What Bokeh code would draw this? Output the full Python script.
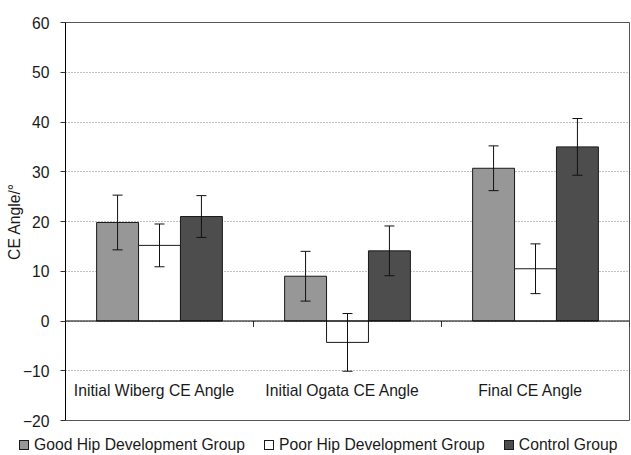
from bokeh.plotting import figure
from bokeh.models import (ColumnDataSource, Range1d, FixedTicker, Whisker, TeeHead,
                          Span, Div)
from bokeh.layouts import column
from bokeh.core.properties import value
from bokeh.embed import file_html
from bokeh.resources import INLINE
import numpy as np

categories = ["Initial Wiberg CE Angle", "Initial Ogata CE Angle", "Final CE Angle"]
series_names = ["Good Hip Development Group", "Poor Hip Development Group", "Control Group"]
good_vals = [19.8, 9.0, 30.7]
good_err = [5.5, 5.0, 4.5]
poor_vals = [15.2, -4.3, 10.5]
poor_err = [4.3, 5.8, 5.0]
ctrl_vals = [21.0, 14.1, 35.0]
ctrl_err = [4.2, 5.0, 5.7]
yticks = [-20, -10, 0, 10, 20, 30, 40, 50, 60]
ytick_labels = ["\u221220", "\u221210", "0", "10", "20", "30", "40", "50", "60"]
y_title = "CE Angle/\u00b0"

FONT = "Liberation Sans"
FS = "15.7px"
fills = ["#979797", "#ffffff", "#4d4d4d"]
bar_w = 0.223
offsets = [-bar_w, 0.0, bar_w]

p = figure(width=631, height=430, output_backend="svg", toolbar_location=None,
           x_range=Range1d(0, 3), y_range=Range1d(-20, 60), x_axis_location=None,
           min_border_left=65, min_border_right=2, min_border_top=22, min_border_bottom=10)
p.xgrid.visible = False
p.outline_line_color = "#555555"
p.outline_line_width = 1

# y axis
ya = p.yaxis[0]
ya.ticker = FixedTicker(ticks=yticks)
ya.major_label_overrides = {t: l for t, l in zip(yticks, ytick_labels)}
ya.major_label_text_font = FONT
ya.major_label_text_font_size = FS
ya.major_label_text_color = "#1a1a1a"
ya.major_tick_in = 0
ya.major_tick_out = 5
ya.major_tick_line_color = "#333333"
ya.minor_tick_line_color = None
ya.axis_line_color = "#000000"
ya.axis_label = y_title
ya.axis_label_text_font = FONT
ya.axis_label_text_font_size = FS
ya.axis_label_text_font_style = "normal"
ya.axis_label_text_color = "#1a1a1a"
ya.axis_label_standoff = -3
ya.major_label_standoff = 11

p.ygrid.ticker = FixedTicker(ticks=yticks)
p.ygrid.grid_line_color = "#808080"
p.ygrid.grid_line_dash = "1 2"

centers = np.arange(len(categories)) + 0.5
for name, vals, errs, fc, off in zip(series_names, [good_vals, poor_vals, ctrl_vals],
                                     [good_err, poor_err, ctrl_err], fills, offsets):
    xs = centers + off
    src = ColumnDataSource(dict(x=xs, top=vals,
                                upper=np.array(vals) + np.array(errs),
                                lower=np.array(vals) - np.array(errs)))
    p.vbar(x="x", top="top", bottom=0, width=bar_w, source=src,
           fill_color=fc, line_color="#1a1a1a", line_width=1)
    w = Whisker(base="x", upper="upper", lower="lower", source=src, level="overlay",
                line_color="#111111", line_width=1,
                upper_head=TeeHead(size=10, line_color="#111111", line_width=1),
                lower_head=TeeHead(size=10, line_color="#111111", line_width=1))
    p.add_layout(w)

# zero line with category boundary ticks
p.add_layout(Span(location=0, dimension="width", line_color="#000000", line_width=1))
bounds = np.arange(len(categories) + 1)
p.ray(x=bounds, y=[0] * len(bounds), length=6, length_units="screen",
      angle=-np.pi / 2, line_color="#333333", line_width=1)

# category labels inside plot area
p.text(x=centers, y=[-14] * len(categories), text=categories,
       text_font=value(FONT), text_font_size=FS, text_align="center",
       text_baseline="middle", text_color="#1a1a1a", x_offset=-5)

# legend strip (HTML, real text)
parts = []
for i, (name, fc) in enumerate(zip(series_names, fills)):
    gap = "0" if i == len(series_names) - 1 else "19px"
    parts.append(
        f'<span style="display:inline-block;width:10px;height:10px;background:{fc};'
        f'border:1px solid #1a1a1a;margin-right:5px;vertical-align:middle;'
        f'position:relative;top:-1px;"></span>'
        f'<span style="margin-right:{gap};">{name}</span>')
legend_div = Div(text="".join(parts), width=631, height=25, margin=0,
                 styles={"font-family": FONT, "font-size": FS, "color": "#1a1a1a",
                         "white-space": "nowrap", "padding-left": "19px",
                         "padding-top": "4px", "line-height": "22px",
                         "box-sizing": "border-box"})

layout = column(p, legend_div, spacing=0)
open("out.html", "w").write(file_html(layout, INLINE))
